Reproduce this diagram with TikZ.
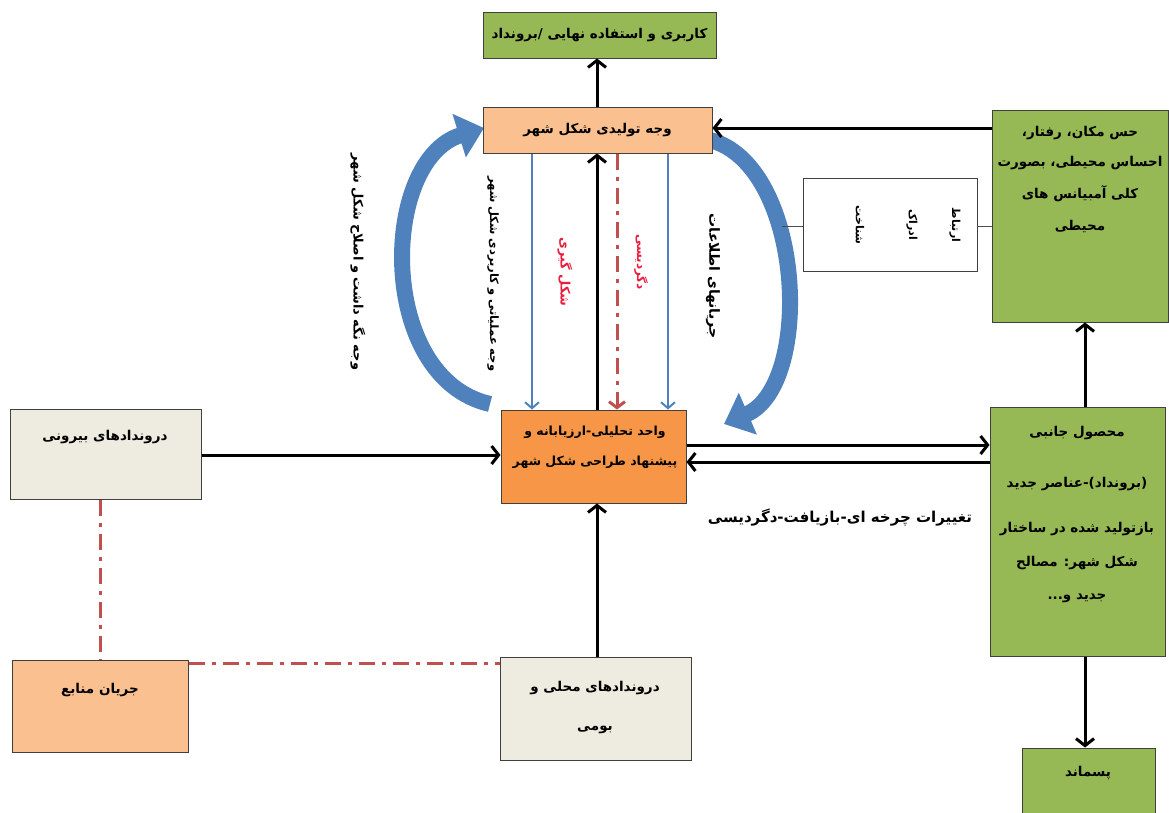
\documentclass[tikz,border=0pt]{standalone}
\usepackage{fontspec}
\newfontfamily\fa[Script=Arabic]{DejaVu Sans}
\TeXXeTstate=1
\usetikzlibrary{arrows.meta,calc}
\newcommand\pr[1]{\beginR #1\endR}
\definecolor{oliveg}{RGB}{150,185,85}
\definecolor{lorange}{RGB}{250,192,144}
\definecolor{dorange}{RGB}{247,150,70}
\definecolor{lgray}{RGB}{238,236,225}
\definecolor{wblue}{RGB}{79,129,189}
\definecolor{wred}{RGB}{192,80,77}
\definecolor{lred}{RGB}{232,30,62}
\begin{document}
\begin{tikzpicture}[x=1pt,y=-1pt,
  box/.style={draw=black!75, line width=1pt, inner sep=0pt},
  txt/.style={font={\fa\bfseries\fontsize{13.5}{16}\selectfont}, inner sep=0pt},
  btxt/.style={font={\fa\bfseries\fontsize{13.5}{16}\selectfont}, inner sep=0pt},
  stxt/.style={font={\fa\bfseries\fontsize{11}{13}\selectfont}, inner sep=0pt, rotate=-90},
  arr/.style={line width=3pt, -{Straight Barb[length=7pt,width=18pt]}},
  barr/.style={wblue, line width=2pt, -{Straight Barb[length=6pt,width=14pt]}},
  rarr/.style={wred, line width=3pt, dash pattern=on 16pt off 7pt on 4pt off 7pt, -{Straight Barb[length=6pt,width=16pt]}},
  rline/.style={wred, line width=3pt, dash pattern=on 16pt off 7pt on 4pt off 7pt},
  arc/.style={wblue, line width=16pt, -{Triangle[length=26pt,width=44pt]}},
  thin/.style={line width=0.6pt, black!70}]
\clip (0,0) rectangle (1169,812);

% curved block arrows (drawn first, under the boxes)
\coordinate (la) at (490,404);
\coordinate (lb) at (484,128);
\draw[arc] (la) .. controls (376,378) and (380,160) .. (lb);
\coordinate (ra) at (710,140);
\coordinate (rb) at (724,424);
\draw[arc] (ra) .. controls (804,165) and (814,385) .. (rb);

% boxes
\node[box, fill=oliveg, minimum width=233pt, minimum height=46pt, txt] (out) at (599.5,35) {\pr{کاربری و استفاده نهایی /برونداد}};
\node[box, fill=lorange, minimum width=229pt, minimum height=46pt, txt] (prod) at (597.5,130) {\pr{وجه تولیدی شکل شهر}};
\node[box, fill=dorange, minimum width=185pt, minimum height=93pt] (unit) at (593.5,456.5) {};
\node[txt, font={\fa\bfseries\fontsize{12.5}{15}\selectfont}] (unit1) at (595,432) {\pr{واحد تحلیلی-ارزیابانه و}};
\node[txt, font={\fa\bfseries\fontsize{12.5}{15}\selectfont}] (unit2) at (595,462) {\pr{پیشنهاد طراحی شکل شهر}};
\node[box, fill=lgray, minimum width=191pt, minimum height=90pt] (ext) at (105.5,454) {};
\node[txt] (extT) at (105,437) {\pr{دروندادهای بیرونی}};
\node[box, fill=lorange, minimum width=176pt, minimum height=92pt] (res) at (100,706) {};
\node[txt] (resT) at (100,690) {\pr{جریان منابع}};
\node[box, fill=lgray, minimum width=191pt, minimum height=103pt] (loc) at (595.5,708.5) {};
\node[txt] (loc1) at (595,688) {\pr{دروندادهای محلی و}};
\node[txt] (loc2) at (595,730) {\pr{بومی}};
\node[box, fill=oliveg, minimum width=176pt, minimum height=212pt] (sense) at (1080,216) {};
\node[btxt] (s1) at (1080,133) {\pr{حس مکان، رفتار،}};
\node[btxt] (s2) at (1080,163) {\pr{احساس محیطی، بصورت}};
\node[btxt] (s3) at (1080,194) {\pr{کلی آمبیانس های}};
\node[btxt] (s4) at (1080,226) {\pr{محیطی}};
\node[box, fill=white, line width=0.7pt, minimum width=174pt, minimum height=93pt] (perc) at (890,224.5) {};
\node[stxt] (p1) at (955,225) {\pr{ارتباط}};
\node[stxt] (p2) at (912,225) {\pr{ادراک}};
\node[stxt] (p3) at (860,225) {\pr{شناخت}};
\node[box, fill=oliveg, minimum width=175pt, minimum height=249pt] (side) at (1077.5,531.5) {};
\node[btxt] (d1) at (1077,433) {\pr{محصول جانبی}};
\node[btxt] (d2) at (1077,484) {\pr{(برونداد)-عناصر جدید}};
\node[btxt] (d3) at (1077,529) {\pr{بازتولید شده در ساختار}};
\node[btxt] (d4) at (1077,563) {\pr{شکل شهر: مصالح}};
\node[btxt] (d5) at (1077,598) {\pr{جدید و...}};
\node[box, fill=oliveg, minimum width=133pt, minimum height=80pt] (waste) at (1088.5,788) {};
\node[txt] (wT) at (1088,773) {\pr{پسماند}};

% labels
\node[stxt, font={\fa\bfseries\fontsize{13}{15}\selectfont}] (lbl1) at (358,262) {\pr{وجه نگه داشت و اصلاح شکل شهر}};
\node[stxt, font={\fa\bfseries\fontsize{11.5}{13}\selectfont}] (lbl2) at (493,274) {\pr{وجه عملیاتی و کاربردی شکل شهر}};
\node[stxt, text=lred, font={\fa\bfseries\fontsize{13}{15}\selectfont}] (lbl3) at (565,272) {\pr{شکل گیری}};
\node[stxt, text=lred, font={\fa\bfseries\fontsize{12}{14}\selectfont}] (lbl4) at (641,262) {\pr{دگردیسی}};
\node[stxt, font={\fa\bfseries\fontsize{14}{16}\selectfont}] (lbl5) at (713,276) {\pr{جریانهای اطلاعات}};
\node[txt, font={\fa\bfseries\fontsize{15}{17}\selectfont}] (lbl6) at (840,517) {\pr{تغییرات چرخه ای-بازیافت-دگردیسی}};

% connectors
\draw[arr] (prod.north -| 597,0) -- (out.south -| 597,0);
\draw[arr] (sense.west |- 0,128) -- (prod.east |- 0,128);
\draw[arr] (unit.north -| 597,0) -- (prod.south -| 597,0);
\draw[barr] (prod.south -| 532,0) -- (unit.north -| 532,0);
\draw[barr] (prod.south -| 668,0) -- (unit.north -| 668,0);
\draw[rarr] (prod.south -| 617,0) -- (unit.north -| 617,0);
\draw[arr] (ext.east |- 0,455) -- (unit.west |- 0,455);
\draw[arr] (unit.east |- 0,445) -- (side.west |- 0,445);
\draw[arr] (side.west |- 0,462) -- (unit.east |- 0,462);
\draw[arr] (loc.north -| 597,0) -- (unit.south -| 597,0);
\draw[arr] (side.north -| 1085,0) -- (sense.south -| 1085,0);
\draw[arr] (side.south -| 1085,0) -- (waste.north -| 1085,0);
\draw[rline] (ext.south -| 100,0) -- (res.north -| 100,0);
\draw[rline] (res.east |- 0,663) -- (loc.west |- 0,663);
\coordinate (pl) at (782,226);
\draw[thin] (pl) -- (perc.west |- 0,226);
\draw[thin] (perc.east |- 0,226) -- (sense.west |- 0,226);
\end{tikzpicture}
\end{document}
